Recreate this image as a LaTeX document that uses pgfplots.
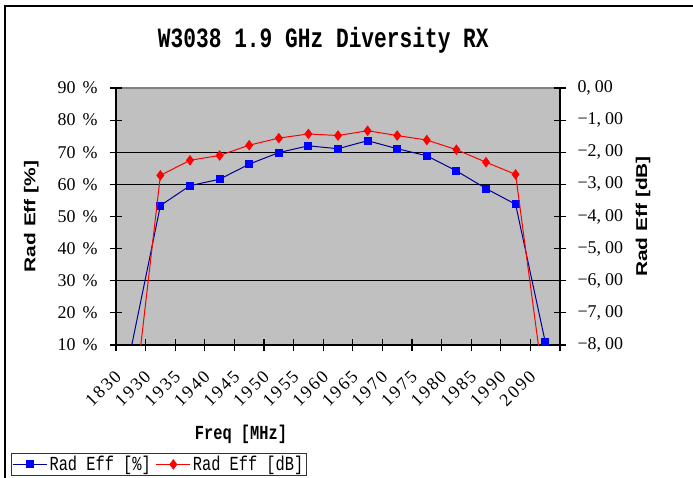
\documentclass[border=0pt]{standalone}
\usepackage{pgfplots}
\pgfplotsset{compat=1.18}
\usepackage{pgfplotstable}
\usepackage{fontspec}
\setmainfont{Liberation Serif}
\newfontfamily\monofont{Liberation Mono}
\newfontfamily\arialfont{Liberation Sans}
\newfontfamily\xtickfont{Liberation Serif}[LetterSpace=12]
\definecolor{plotbg}{RGB}{192,192,192}
\definecolor{serblue}{RGB}{0,0,255}
\definecolor{linblue}{RGB}{0,0,150}
\definecolor{serred}{RGB}{255,0,0}
\newcommand\pct{\hspace{7bp}\%}
\newcommand\dbl[1]{#1,\hspace{4bp}00}

\pgfplotstableread{
x blue red
0 8.5 -10.7
1 53.4 -2.72
2 59.6 -2.25
3 61.6 -2.10
4 66.3 -1.78
5 69.9 -1.56
6 72.0 -1.43
7 71.1 -1.48
8 73.6 -1.33
9 71.1 -1.48
10 68.9 -1.62
11 64.2 -1.92
12 58.7 -2.31
13 53.8 -2.69
14 11.0 -9.59
}\datatable

\begin{document}
\begin{tikzpicture}
\path[use as bounding box, fill=white] (-116bp,-133bp) rectangle (577bp,345bp);
\draw[line width=2bp] (-111bp,-133bp) -- (-111bp,339bp) -- (577bp,339bp);

\begin{axis}[
  scale only axis, width=444bp, height=257bp,
  xmin=-0.5, xmax=14.5, ymin=10, ymax=90,
  axis x line*=bottom, axis y line*=left,
  axis line style={-, black, line width=1.2bp},
  axis background/.style={fill=plotbg, draw=gray, line width=1.2bp},
  tick align=center, major tick length=12bp,
  tick style={black, line width=1.2bp},
  xtick={-0.5,0.5,...,14.5}, xticklabels={,,,,,,,,,,,,,,,,},
  extra x ticks={0,1,...,14},
  extra x tick labels={1830,1930,1935,1940,1945,1950,1955,1960,1965,1970,1975,1980,1985,1990,2090},
  extra x tick style={major tick length=0pt},
  xticklabel style={font=\xtickfont\fontsize{18}{18}\selectfont, inner sep=0pt, xshift=-17bp, yshift=-24bp, rotate=45, anchor=north east},
  ytick={10,20,...,90},
  yticklabels={10\pct,20\pct,30\pct,40\pct,50\pct,60\pct,70\pct,80\pct,90\pct},
  yticklabel style={font=\fontsize{18}{18}\selectfont, xshift=-9bp},
  extra y ticks={30,60,70}, extra y tick labels={,,},
  extra y tick style={grid=major, major grid style={black, line width=1.3bp}},
  title={\scalebox{0.76}[1]{\monofont\bfseries\fontsize{28}{28}\selectfont W3038 1.9 GHz Diversity RX}},
  title style={at={(axis description cs:0.467,1.162)}, anchor=center},
  xlabel={\scalebox{0.77}[1]{\monofont\bfseries\fontsize{20}{20}\selectfont Freq [MHz]}},
  xlabel style={at={(axis description cs:0.2815,-0.346)}, anchor=center},
  ylabel={\scalebox{1}[0.75]{\arialfont\bfseries\fontsize{21}{21}\selectfont Rad Eff [\%]}},
  ylabel style={at={(axis description cs:-0.191,0.5)}, anchor=center},
  clip marker paths=true,
]
\addplot[linblue, line width=1bp, mark=square*, mark size=3.5bp,
  mark options={fill=serblue, draw=serblue}] table[x=x, y=blue]{\datatable};
\end{axis}

\begin{axis}[
  scale only axis, width=444bp, height=257bp,
  xmin=-0.5, xmax=14.5, ymin=-8, ymax=0,
  axis x line=none, axis y line*=right,
  axis line style={-, black, line width=1.2bp},
  tick align=center, major tick length=12bp,
  tick style={black, line width=1.2bp},
  ytick={-8,-7,...,0},
  yticklabels={\dbl{−8},\dbl{−7},\dbl{−6},\dbl{−5},\dbl{−4},\dbl{−3},\dbl{−2},\dbl{−1},\dbl{0}},
  yticklabel style={font=\fontsize{18}{18}\selectfont, xshift=8bp},
  ylabel={\scalebox{1}[0.75]{\arialfont\bfseries\fontsize{21}{21}\selectfont Rad Eff [dB]}},
  ylabel style={at={(axis description cs:1.187,0.5)}, anchor=center},
  clip marker paths=true,
  legend columns=2,
  legend style={at={(axis description cs:-0.2365,-0.5097)}, anchor=south west,
    draw=black!80, line width=1.2bp, inner sep=1bp,
    font=\monofont\fontsize{20}{20}\selectfont,
    /tikz/every even column/.append style={column sep=3bp}},
  legend cell align=left,
  legend image code/.code={\draw[mark repeat=2, mark phase=2] plot coordinates {(0bp,0bp) (17bp,0bp) (34bp,0bp)};},
]
\addlegendimage{linblue, line width=1bp, mark=square*, mark size=3.5bp, mark options={fill=serblue, draw=serblue}}
\addlegendentry{\scalebox{0.77}[1]{Rad Eff [\%]}}
\addplot[serred, line width=1bp, mark=diamond*, mark size=4.5bp,
  mark options={fill=serred, draw=serred}] table[x=x, y=red]{\datatable};
\addlegendentry{\scalebox{0.77}[1]{Rad Eff [dB]}}
\end{axis}
\end{tikzpicture}
\end{document}
